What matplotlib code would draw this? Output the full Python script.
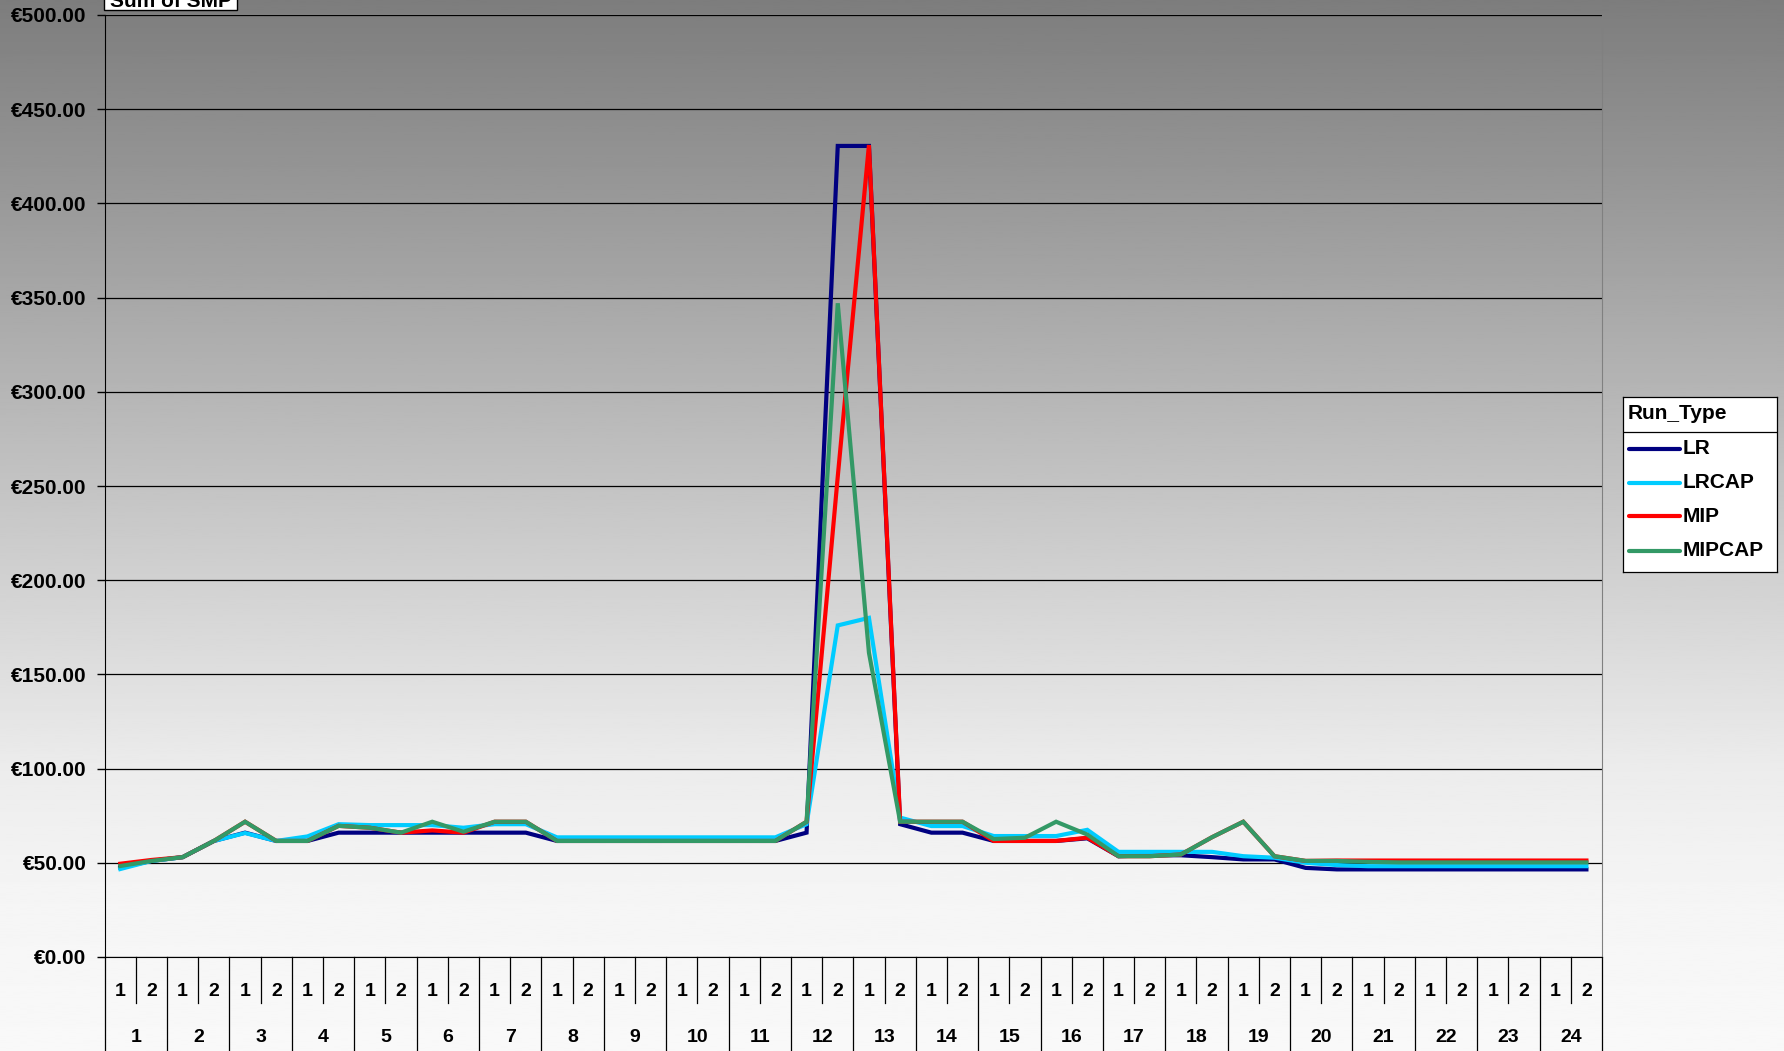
import numpy as np
import matplotlib
matplotlib.use("Agg")
import matplotlib.pyplot as plt
from matplotlib.patches import Rectangle
from matplotlib.transforms import blended_transform_factory

plt.rcParams["font.family"] = ["Liberation Sans", "DejaVu Sans"]
plt.rcParams["font.weight"] = "bold"

# Sum of SMP by hour / half-hour period, one list per run type
hours = list(range(1, 25))
periods = [1, 2]

lr = [47.5, 51, 53, 61.6, 66, 61.6, 61.6, 66, 66, 66, 66, 66, 66, 66,
      61.6, 61.6, 61.6, 61.6, 61.6, 61.6, 61.6, 61.6,
      66, 430.5, 430.5,
      70.5, 66, 66, 61.6, 61.6, 61.6, 63,
      53.5, 54, 54, 53, 51.8, 51.8, 47.3,
      46.5, 46.5, 46.5, 46.5, 46.5, 46.5, 46.5, 46.5, 46.5]
lrcap = [46.7, 51, 53, 61.6, 65.8, 61.6, 64, 70.5, 70, 70, 70, 68.6, 70.5, 70.5,
         63.5, 63.5, 63.5, 63.5, 63.5, 63.5, 63.5, 63.5,
         70.5, 176, 180,
         74, 69.5, 69.5, 64.2, 64.2, 64.2, 67.5,
         55.8, 55.8, 55.8, 55.8, 53.5, 52.7, 50,
         48.8, 48.2, 48.2, 48.2, 48.2, 48.2, 48.2, 48.2, 48.2]
mip = [49.5, 51.5, 53, 61.6, 71.8, 61.6, 61.6, 69.6, 68.6, 66, 67.2, 66, 71.8, 71.8,
       61.6, 61.6, 61.6, 61.6, 61.6, 61.6, 61.6, 61.6,
       71.8, 255, 431,
       71.8, 71.8, 71.8, 61.6, 61.6, 61.6, 63.3,
       53.5, 53.5, 54.4, 63.6, 71.8, 53.5, 51,
       51.2, 51.2, 51.2, 51.2, 51.2, 51.2, 51.2, 51.2, 51.2]
mipcap = [48.3, 51, 53, 61.6, 71.8, 61.6, 61.6, 69.6, 68.6, 66, 71.8, 66.5, 71.8, 71.8,
          61.6, 61.6, 61.6, 61.6, 61.6, 61.6, 61.6, 61.6,
          71.8, 347, 161.5,
          71.8, 71.8, 71.8, 62.6, 63.3, 71.8, 65,
          53.5, 53.5, 54.4, 63.6, 71.8, 53.5, 51,
          51, 50.5, 50.2, 50.2, 50.2, 50.2, 50.2, 50.2, 50.2]

series = {"LR": lr, "LRCAP": lrcap, "MIP": mip, "MIPCAP": mipcap}
colors = {"LR": "#000080", "LRCAP": "#00ccff", "MIP": "#ff0000", "MIPCAP": "#339966"}

W, H = 1784, 1051
fig = plt.figure(figsize=(W / 100, H / 100), dpi=100)

# gradient background (dark gray top -> near white bottom)
bg = fig.add_axes([0, 0, 1, 1], zorder=-10)
t = np.linspace(0, 1, 512)
shade = np.interp(t, [0, 0.19, 0.37, 0.55, 0.73, 0.85, 1.0],
                  [0.49, 0.60, 0.71, 0.82, 0.925, 0.96, 0.975])
bg.imshow(shade.reshape(-1, 1), aspect="auto", cmap="gray", vmin=0, vmax=1,
          extent=[0, 1, 0, 1], origin="upper")
bg.axis("off")

left, right = 104.7 / W, 1602 / W
bottom, top = 1 - 957 / H, 1 - 15 / H
ax = fig.add_axes([left, bottom, right - left, top - bottom])
ax.set_facecolor("none")

n = len(hours) * len(periods)
x = np.arange(n)
for name, vals in series.items():
    ax.plot(x, vals, color=colors[name], lw=3.0, solid_joinstyle="miter", label=name)

ax.set_xlim(-0.5, n - 0.5)
ax.set_ylim(0, 500)
ax.set_yticks(np.arange(0, 501, 50))
ax.set_yticklabels([f"€{v:.2f}" for v in np.arange(0, 501, 50)], fontsize=15, fontweight="bold")
ax.tick_params(axis="y", direction="out", length=6, width=1, pad=7, colors="black")
ax.yaxis.grid(True, color="black", lw=0.9)
ax.set_axisbelow(True)
ax.set_xticks([])
ax.spines["top"].set_visible(False)
ax.spines["right"].set_color("#808080")
ax.spines["left"].set_color("black")
ax.spines["bottom"].set_color("black")

# two-level category axis
tr = blended_transform_factory(ax.transData, ax.transAxes)
axh = 942.0
row1 = -(991 - 957) / axh
row2 = -(1037 - 957) / axh
minor_end = -(1003 - 957) / axh
major_end = -(1060 - 957) / axh
for i in range(n):
    ax.text(x[i], row1, str(periods[i % 2]), transform=tr, ha="center", va="center",
            fontsize=14, fontweight="bold")
for j, h in enumerate(hours):
    ax.text(2 * j + 0.5, row2, str(h), transform=tr, ha="center", va="center",
            fontsize=14, fontweight="bold")
for b in np.arange(-0.5, n, 1.0):
    yend = major_end if int(b + 0.5) % 2 == 0 else minor_end
    ax.plot([b, b], [0, yend], transform=tr, color="black", lw=0.9, clip_on=False)

# legend box
lax = fig.add_axes([1623 / W, 1 - 572 / H, 154 / W, 175 / H])
lax.set_xlim(0, 1)
lax.set_ylim(0, 1)
lax.set_xticks([])
lax.set_yticks([])
lax.set_facecolor("white")
for s in lax.spines.values():
    s.set_color("black")
    s.set_linewidth(0.9)
lax.text(0.03, 0.905, "Run_Type", ha="left", va="center", fontsize=15, fontweight="bold")
lax.axhline(0.8, color="black", lw=0.9)
ys = [0.703, 0.509, 0.32, 0.12]
for yy, name in zip(ys, series):
    lax.plot([0.04, 0.37], [yy, yy], color=colors[name], lw=3.0, solid_capstyle="round")
    lax.text(0.39, yy, name, ha="left", va="center", fontsize=15, fontweight="bold")

# pivot field button, cut off at the top edge
fig.add_artist(Rectangle((104 / W, 1 - 10 / H), 133 / W, 0.05, transform=fig.transFigure,
                         facecolor="white", edgecolor="black", lw=1, clip_on=False))
fig.text(110 / W, 1 - 7 / H, "Sum of SMP", ha="left", va="baseline", fontsize=15, fontweight="bold")

fig.savefig("out.png", dpi=100)
